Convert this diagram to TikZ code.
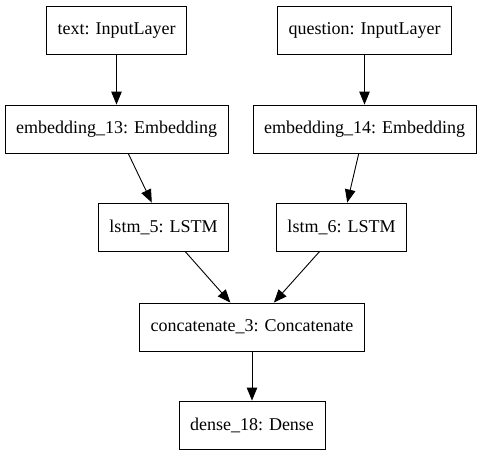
\documentclass[tikz,border=0pt]{standalone}
\usepackage{fontspec}
\setmainfont{Liberation Serif}
\usetikzlibrary{arrows.meta}

\begin{document}
\begin{tikzpicture}[x=1pt, y=-1pt]
                \useasboundingbox (0,0) rectangle (481,456);
                \begin{scope}[
                        every node/.style={rectangle, draw, line width=0.9pt,
                            inner xsep=11pt, minimum height=48pt,
                            font=\fontsize{18}{21}\selectfont},
                        every edge/.style={draw, line width=0.9pt,
                            -{Triangle[length=13pt, width=10.5pt]}}
                    ]

                    \node (text) at (116.5,30.5) {text: InputLayer};
                    \node (question) at (364.5,30.5) {question: InputLayer};
                    \node (emb13) at (116.5,129) {embedding\_13: Embedding};
                    \node (emb14) at (364.5,129) {embedding\_14: Embedding};
                    \node (lstm5) at (163.5,227) {lstm\_5: LSTM};
                    \node (lstm6) at (341.5,227) {lstm\_6: LSTM};
                    \node (concat) at (252,327) {concatenate\_3: Concatenate};
                    \node (dense) at (252,425) {dense\_18: Dense};

                    \draw (text) edge (emb13);
                    \draw (question) edge (emb14);
                    \draw (emb13) edge (lstm5);
                    \draw (emb14) edge (lstm6);
                    \draw (lstm5) edge (concat);
                    \draw (lstm6) edge (concat);
                    \draw (concat) edge (dense);
                \end{scope}
            \end{tikzpicture}
\end{document}
